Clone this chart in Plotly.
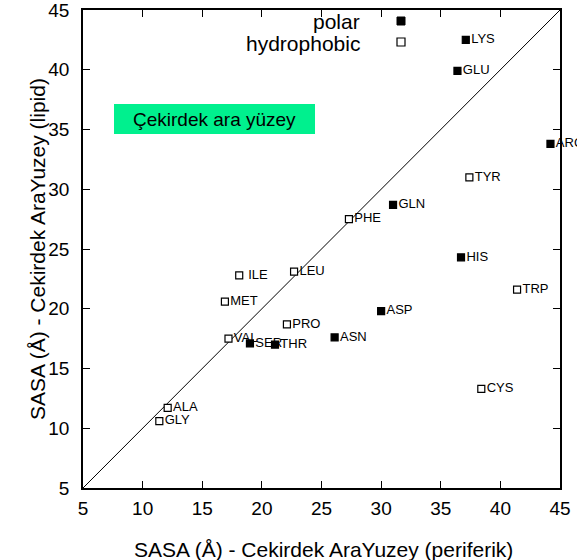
import plotly.graph_objects as go

# Solvent accessible surface area per residue: peripheral interface (x) vs lipid interface (y)
polar_names = ["LYS", "GLU", "ARG", "GLN", "HIS", "ASP", "ASN", "SER", "THR"]
polar_periferik = [37.1, 36.4, 44.2, 31.0, 36.7, 30.0, 26.1, 19.0, 21.1]
polar_lipid = [42.5, 39.9, 33.8, 28.7, 24.3, 19.8, 17.6, 17.1, 17.0]

hydrophobic_names = ["TYR", "PHE", " ILE", "LEU", "TRP", "MET", "PRO", "VAL", "CYS", "ALA", "GLY"]
hydrophobic_periferik = [37.4, 27.3, 18.1, 22.7, 41.4, 16.9, 22.1, 17.2, 38.4, 12.1, 11.4]
hydrophobic_lipid = [31.0, 27.5, 22.8, 23.1, 21.6, 20.6, 18.7, 17.5, 13.3, 11.7, 10.6]

diagonal = [5, 45]
axis_ticks = [5, 10, 15, 20, 25, 30, 35, 40, 45]

FONT = "Liberation Sans, Arial, Helvetica, sans-serif"
W, H = 577, 560
L, R, T, B = 83, 17, 10, 72
PW, PH = W - L - R, H - T - B


def px_x(p):
    return (p - L) / PW


def px_y(p):
    return (H - B - p) / PH


fig = go.Figure()

fig.add_trace(go.Scatter(
    x=diagonal, y=diagonal, mode="lines",
    line=dict(color="black", width=1), hoverinfo="skip", showlegend=False,
))

fig.add_trace(go.Scatter(
    x=polar_periferik, y=polar_lipid, mode="markers+text",
    text=polar_names, textposition="middle right",
    textfont=dict(family=FONT, size=13, color="black"),
    marker=dict(symbol="square", size=7, color="black",
                line=dict(color="black", width=1.2)),
    cliponaxis=False, showlegend=False,
))

fig.add_trace(go.Scatter(
    x=hydrophobic_periferik, y=hydrophobic_lipid, mode="markers+text",
    text=hydrophobic_names, textposition="middle right",
    textfont=dict(family=FONT, size=13, color="black"),
    marker=dict(symbol="square", size=7, color="white",
                line=dict(color="black", width=1.2)),
    cliponaxis=False, showlegend=False,
))

shapes = [
    # label box
    dict(type="rect", xref="paper", yref="paper",
         x0=px_x(114), x1=px_x(315), y0=px_y(134), y1=px_y(104),
         fillcolor="#00F08E", line=dict(width=0), layer="above"),
    # key symbols
    dict(type="rect", xref="paper", yref="paper",
         xsizemode="pixel", ysizemode="pixel",
         xanchor=px_x(401), yanchor=px_y(21),
         x0=-4, x1=4, y0=-4, y1=4,
         fillcolor="black", line=dict(color="black", width=1)),
    dict(type="rect", xref="paper", yref="paper",
         xsizemode="pixel", ysizemode="pixel",
         xanchor=px_x(401), yanchor=px_y(42),
         x0=-4, x1=4, y0=-4, y1=4,
         fillcolor="white", line=dict(color="black", width=1.2)),
]

annotations = [
    dict(text="Çekirdek ara yüzey", xref="paper", yref="paper",
         x=px_x(214.5), y=px_y(119.5), xanchor="center", yanchor="middle",
         showarrow=False, font=dict(family=FONT, size=19, color="black")),
    dict(text="polar", xref="paper", yref="paper",
         x=px_x(362), y=px_y(22), xanchor="right", yanchor="middle",
         showarrow=False, font=dict(family=FONT, size=21, color="black")),
    dict(text="hydrophobic", xref="paper", yref="paper",
         x=px_x(362), y=px_y(43), xanchor="right", yanchor="middle",
         showarrow=False, font=dict(family=FONT, size=21, color="black")),
    dict(text="SASA (Å) - Cekirdek AraYuzey (periferik)", xref="paper", yref="paper",
         x=px_x(323), y=px_y(549), xanchor="center", yanchor="middle",
         showarrow=False, font=dict(family=FONT, size=21, color="black")),
    dict(text="SASA (Å) - Cekirdek AraYuzey (lipid)", xref="paper", yref="paper",
         x=px_x(37), y=px_y(249), xanchor="center", yanchor="middle", textangle=-90,
         showarrow=False, font=dict(family=FONT, size=21, color="black")),
]

axis_common = dict(
    range=[5, 45], tickvals=axis_ticks, ticks="inside", ticklen=7, tickwidth=1,
    tickcolor="black", showline=True, linecolor="black", linewidth=1.5,
    mirror="ticks", showgrid=False, zeroline=False, automargin=False,
    ticklabeloverflow="allow",
    tickfont=dict(family=FONT, size=19, color="black"),
)

fig.update_xaxes(**axis_common, ticklabelstandoff=2)
fig.update_yaxes(**axis_common, ticklabelstandoff=8)

fig.update_layout(
    width=W, height=H,
    margin=dict(l=L, r=R, t=T, b=B, autoexpand=False),
    plot_bgcolor="white", paper_bgcolor="white",
    shapes=shapes, annotations=annotations,
    showlegend=False,
)

fig.write_html("out.html")
